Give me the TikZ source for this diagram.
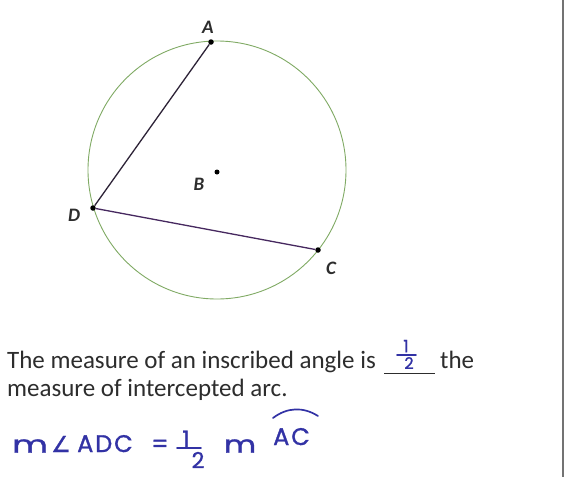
\documentclass[tikz,border=0pt]{standalone}
\usepackage{fontspec}
\setmainfont{Carlito}
\newfontfamily\handfont[FakeBold=1.2]{Poppins}
\newfontfamily\symfont[FakeBold=1.2]{DejaVu Sans}
\usetikzlibrary{positioning}

\definecolor{circgreen}{RGB}{128,170,100}
\definecolor{chorddark}{RGB}{45,35,55}
\definecolor{chordpurple}{RGB}{70,40,95}
\definecolor{inkblue}{RGB}{50,50,165}
\definecolor{edgegray}{RGB}{115,115,115}
\definecolor{printgray}{RGB}{45,45,45}

\begin{document}
\begin{tikzpicture}[x=1pt,y=-1pt,
    pt/.style={circle,fill=black,inner sep=0pt,minimum size=5.5pt},
    lbl/.style={font=\fontsize{19}{20}\selectfont\bfseries\itshape,text=printgray,inner sep=1pt},
    txt/.style={font=\fontsize{25}{28}\selectfont,text=printgray,inner sep=0pt,anchor=base west},
    ink/.style={text=inkblue,font=\handfont\fontsize{24}{26}\selectfont,inner sep=0pt},
    inkline/.style={draw=inkblue,line width=1.7pt,line cap=round}]
        \useasboundingbox[fill=white] (0,0) rectangle (568,477);
        \draw[edgegray,line width=2pt] (563,0) -- (563,477);

        % circle and chords
        \draw[circgreen,line width=0.9pt] (217,170) circle[radius=129];
        \node[pt] (A) at (211,42) {};
        \node[pt] (D) at (93,208) {};
        \node[pt] (C) at (318,250) {};
        \node[pt,minimum size=5pt] (B) at (217,172) {};
        \draw[chorddark,line width=1.3pt] (A) -- (D);
        \draw[chordpurple,line width=1.3pt] (D) -- (C);

        \node[lbl] (labA) at (208,27) {A};
        \node[lbl] (labB) at (199,184) {B};
        \node[lbl] (labD) at (74,215) {D};
        \node[lbl] (labC) at (331,268) {C};

        % printed statement
        \node[txt] (line1) at (7,368) {The measure of an inscribed angle is};
        \node[txt] (the) at (440,368) {the};
        \node[txt] (line2) at (7,396) {measure of intercepted arc.};
        \coordinate (blankL) at (384,373);
        \coordinate (blankR) at (435,373);
        \draw[printgray,line width=0.8pt] (blankL) -- (blankR);

        % handwritten answer
        \node[ink,font=\handfont\fontsize{17}{18}\selectfont] (hOne) at (406,346) {1};
        \node[ink,font=\handfont\fontsize{16}{18}\selectfont] (hTwo) at (409,363) {2};
        \coordinate (hbarL) at (397,355);
        \coordinate (hbarR) at (416,355);
        \draw[inkline] (hbarL) -- (hbarR);

        % handwritten equation
        \node[ink] (m1) at (30,446) {\scalebox{1.45}[1]{m}};
        \node[ink,font=\symfont\fontsize{22}{22}\selectfont] (ang) at (61,444) {∠};
        \node[ink,anchor=base west] (adc) at (77,452) {\addfontfeature{LetterSpace=8}ADC};
        \node[ink] (eq) at (160,446) {=};
        \node[ink,font=\handfont\fontsize{23}{23}\selectfont] (fOne) at (186,439) {1};
        \node[ink,font=\handfont\fontsize{22}{22}\selectfont] (fTwo) at (198,460) {2};
        \coordinate (fbarL) at (177,448);
        \coordinate (fbarR) at (201,448);
        \draw[inkline] (fbarL) -- (fbarR);
        \node[ink] (m2) at (240,446) {\scalebox{1.3}[1]{m}};
        \node[ink,anchor=base west] (ac) at (273,445) {\addfontfeature{LetterSpace=8}AC};
        \coordinate (arcL) at (273,418);
        \coordinate (arcR) at (318,416);
        \draw[inkline] (arcL) to[bend left=35] (arcR);
      \end{tikzpicture}
\end{document}
